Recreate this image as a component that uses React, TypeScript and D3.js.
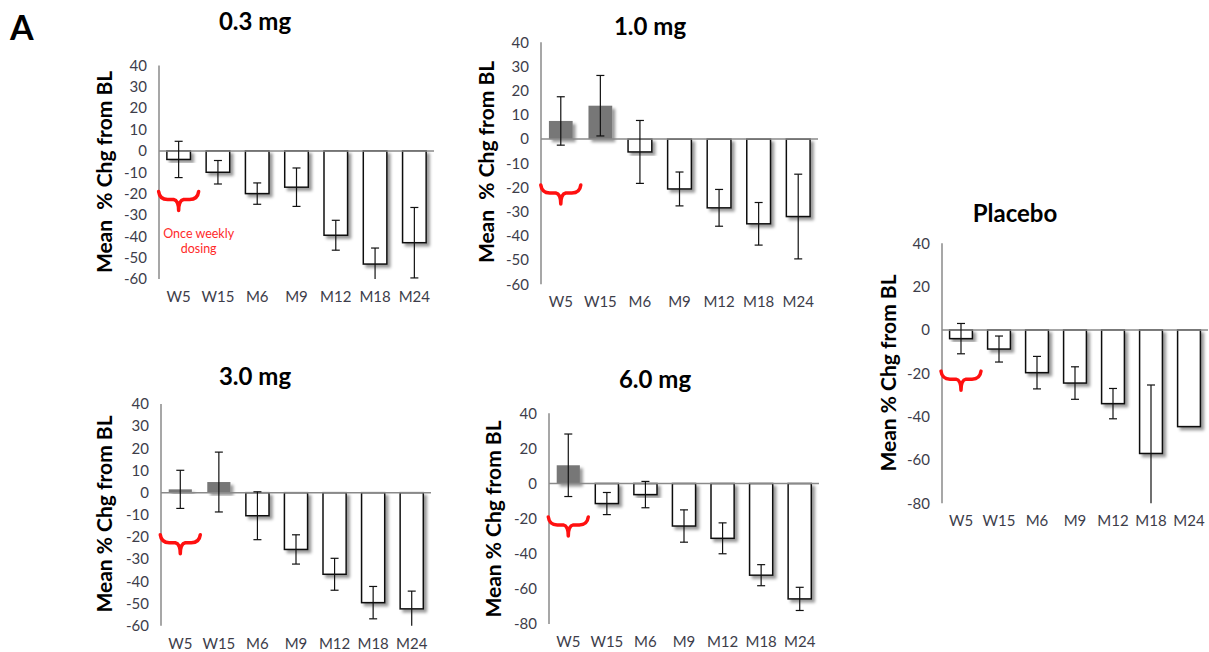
import React from 'react';
import * as d3 from 'd3';

const categories = ['W5', 'W15', 'M6', 'M9', 'M12', 'M18', 'M24'];

const mean03 = [-4, -10, -20, -17, -39.5, -53, -43];
const err03 = [8.5, 5.5, 5, 9, 7, 7.5, 16.5];
const mean10 = [7.5, 13.8, -5.3, -20.6, -28.4, -35, -32];
const err10 = [10, 12.5, 13, 7, 7.6, 8.8, 17.5];
const mean30 = [1.5, 4.8, -10.4, -25.6, -36.8, -49.6, -52.4];
const err30 = [8.6, 13.5, 10.8, 6.6, 7.2, 7.3, 8];
const mean60 = [10.4, -11.4, -6.3, -24.2, -31.2, -52.2, -65.7];
const err60 = [17.8, 6.3, 7.5, 9.2, 8.8, 6, 6.6];
const meanPbo = [-4, -8.8, -19.7, -24.5, -34, -57, -44.6];
const errPbo: (number | null)[] = [7, 6, 7.5, 7.5, 7, 31.6, null];

const ticks10 = [40, 30, 20, 10, 0, -10, -20, -30, -40, -50, -60];
const ticks20 = [40, 20, 0, -20, -40, -60, -80];

const FONT = 'Lato, "Open Sans", sans-serif';
const TICK_COLOR = '#3d3d4a';

interface PanelProps {
    title: string;
    yLabel: string;
    means: number[];
    errs: (number | null)[];
    ticks: number[];
    x0: number;
    x1: number;
    yTop: number;
    yBottom: number;
    titleX: number;
    titleY: number;
    labelX: number;
    labelY: number;
    note?: boolean;
}

const Panel: React.FC<PanelProps> = (p) => {
    const lo = d3.min(p.ticks)!;
    const hi = d3.max(p.ticks)!;
    const x = d3.scaleBand<string>()
        .domain(categories)
        .range([p.x0, p.x1])
        .paddingInner(0.4)
        .paddingOuter(0.2);
    const y = d3.scaleLinear().domain([lo, hi]).range([p.yBottom, p.yTop]);
    const bw = x.bandwidth();
    const cx0 = x('W5')! + bw / 2;
    const braceTop = y(-19);

    // red curly brace under the first visit
    const brace = d3.path();
    brace.moveTo(cx0 - 20, braceTop);
    brace.quadraticCurveTo(cx0 - 19, braceTop + 8, cx0 - 11, braceTop + 8);
    brace.lineTo(cx0 - 5, braceTop + 8);
    brace.quadraticCurveTo(cx0, braceTop + 9, cx0, braceTop + 19);
    brace.quadraticCurveTo(cx0, braceTop + 9, cx0 + 5, braceTop + 8);
    brace.lineTo(cx0 + 11, braceTop + 8);
    brace.quadraticCurveTo(cx0 + 19, braceTop + 8, cx0 + 20, braceTop);

    return (
        <g>
            <text x={p.titleX} y={p.titleY} textAnchor="middle" fontFamily={FONT}
                fontWeight="bold" fontSize={24} fill="#000">{p.title}</text>
            <text transform={`translate(${p.labelX},${p.labelY}) rotate(-90)`} textAnchor="middle"
                fontFamily={FONT} fontWeight="bold" fontSize={21} fill="#000"
                style={{ whiteSpace: 'pre' }}>{p.yLabel}</text>
            {p.ticks.map(t => (
                <text key={t} x={p.x0 - 12} y={y(t)} dy="0.35em" textAnchor="end"
                    fontFamily={FONT} fontSize={15} fill={TICK_COLOR}>{t}</text>
            ))}
            <line x1={p.x0} x2={p.x0} y1={p.yTop} y2={p.yBottom} stroke="#8a8a8a" strokeWidth={1.5} />
            {categories.map((c, i) => {
                const v = p.means[i];
                const top = y(Math.max(0, v));
                const h = Math.abs(y(v) - y(0));
                const pos = v > 0;
                return (
                    <rect key={c} x={x(c)} y={top} width={bw} height={h}
                        fill={pos ? '#777777' : '#ffffff'}
                        stroke={pos ? 'none' : '#111'} strokeWidth={1.5}
                        filter="url(#shadow)" />
                );
            })}
            <line x1={p.x0} x2={p.x1} y1={y(0)} y2={y(0)} stroke="#8a8a8a" strokeWidth={1.5} />
            {categories.map((c, i) => {
                const e = p.errs[i];
                if (e == null) return null;
                const cx = x(c)! + bw / 2;
                const v = p.means[i];
                const upV = v + e;
                const dnV = v - e;
                const up = y(Math.min(hi, upV));
                const dn = y(Math.max(lo, dnV));
                return (
                    <g key={c} stroke="#111" strokeWidth={1.2}>
                        <line x1={cx} x2={cx} y1={up} y2={dn} />
                        {upV <= hi && <line x1={cx - 4} x2={cx + 4} y1={up} y2={up} />}
                        {dnV >= lo && <line x1={cx - 4} x2={cx + 4} y1={dn} y2={dn} />}
                    </g>
                );
            })}
            {categories.map(c => (
                <text key={c} x={x(c)! + bw / 2} y={p.yBottom + 23} textAnchor="middle"
                    fontFamily={FONT} fontSize={15} fill={TICK_COLOR}>{c}</text>
            ))}
            <path d={brace.toString()} fill="none" stroke="#ff1010" strokeWidth={3.5}
                strokeLinecap="round" strokeLinejoin="round" />
            {p.note && (
                <text x={cx0 + 20} y={y(-41)} textAnchor="middle" fontFamily={FONT}
                    fontSize={12.5} fill="#ff2a2a">
                    <tspan x={cx0 + 20} dy="0">Once weekly</tspan>
                    <tspan x={cx0 + 20} dy="15">dosing</tspan>
                </text>
            )}
        </g>
    );
};

const App: React.FC = () => {
    return (
        <svg width={1209} height={652} style={{ position: 'absolute', left: 0, top: 0, background: '#fff' }}>
            <defs>
                <filter id="shadow" x="-30%" y="-30%" width="160%" height="160%">
                    <feDropShadow dx={3} dy={3} stdDeviation={1.6} floodColor="#000" floodOpacity={0.4} />
                </filter>
            </defs>
            <rect width={1209} height={652} fill="#fff" />
            <text x={10} y={40} fontFamily={FONT} fontWeight="bold" fontSize={34} fill="#000">A</text>
            <Panel title="0.3 mg" yLabel="Mean  % Chg from BL" means={mean03} errs={err03} ticks={ticks10}
                x0={159} x1={434} yTop={65.5} yBottom={279} titleX={255} titleY={30}
                labelX={112} labelY={172} note />
            <Panel title="1.0 mg" yLabel="Mean  % Chg from BL" means={mean10} errs={err10} ticks={ticks10}
                x0={541} x1={818} yTop={42.3} yBottom={284.3} titleX={650} titleY={35}
                labelX={494} labelY={162} />
            <Panel title="3.0 mg" yLabel="Mean % Chg from BL" means={mean30} errs={err30} ticks={ticks10}
                x0={161} x1={431} yTop={404} yBottom={625.7} titleX={255} titleY={385}
                labelX={112} labelY={514} />
            <Panel title="6.0 mg" yLabel="Mean % Chg from BL" means={mean60} errs={err60} ticks={ticks20}
                x0={549} x1={819} yTop={413.3} yBottom={624} titleX={655} titleY={388}
                labelX={501} labelY={519} />
            <Panel title="Placebo" yLabel="Mean % Chg from BL" means={meanPbo} errs={errPbo} ticks={ticks20}
                x0={942} x1={1208} yTop={243.3} yBottom={503.3} titleX={1015} titleY={222}
                labelX={896} labelY={373} />
        </svg>
    );
};

export default App;
